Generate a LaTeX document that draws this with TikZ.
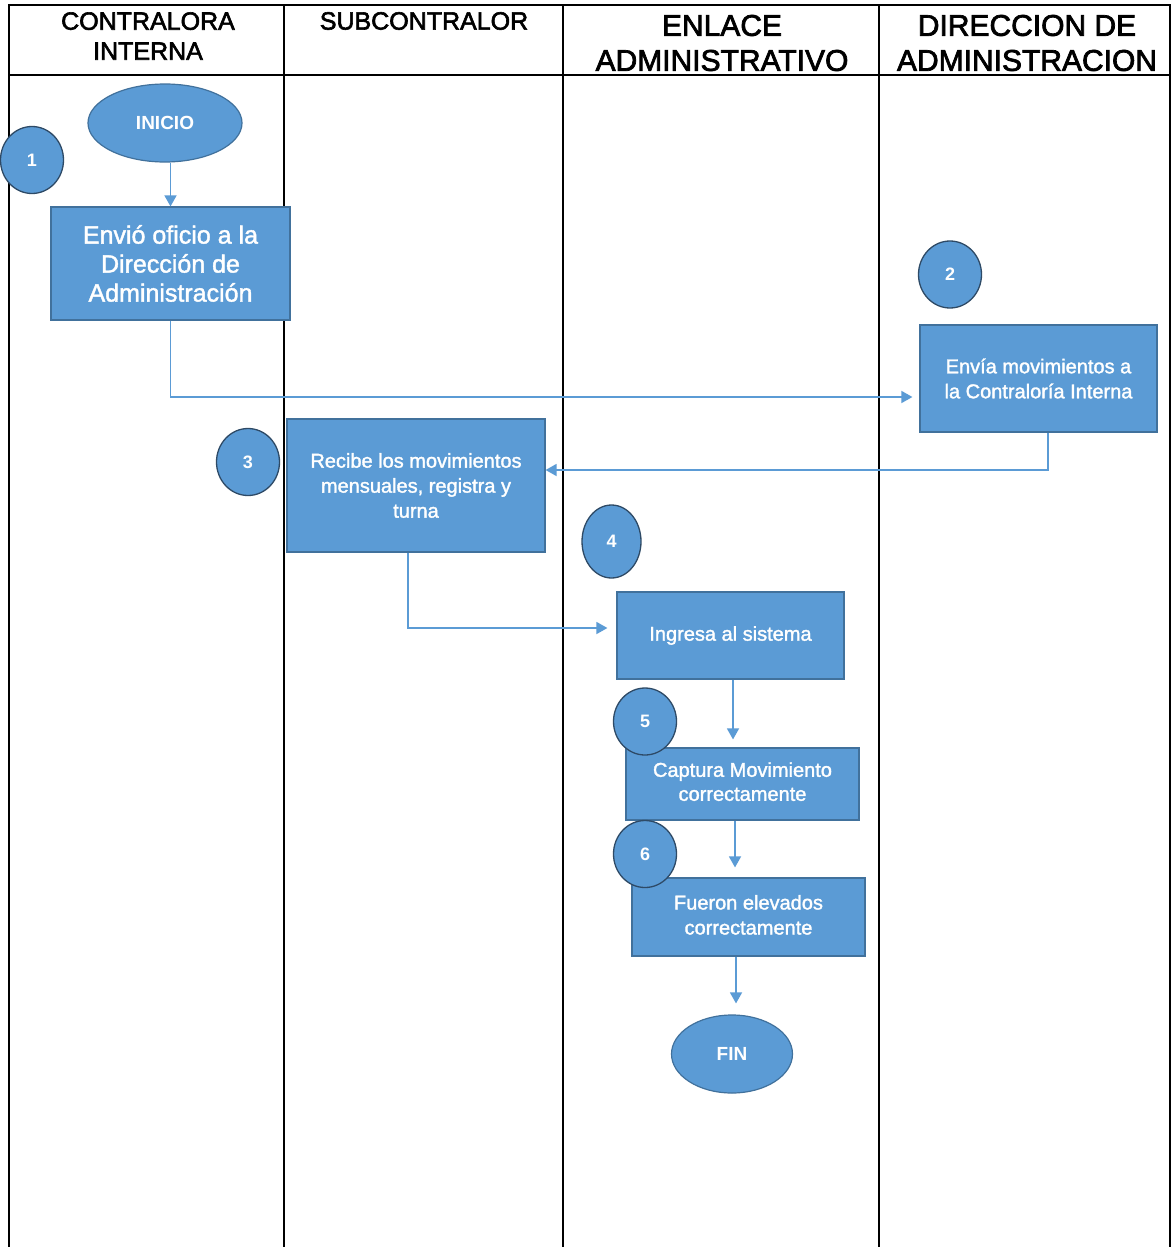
\documentclass[tikz,border=0pt]{standalone}
\usepackage{fontspec}
\setmainfont{Liberation Sans}
\newfontfamily\heavyish[FakeBold=2.4]{Liberation Sans}
\newfontfamily\boxfont[FakeBold=1.6]{Liberation Sans}
\usetikzlibrary{arrows.meta,shapes.geometric}
\definecolor{stepfill}{HTML}{5B9BD5}
\definecolor{stepline}{HTML}{41719C}
\definecolor{markline}{HTML}{2E4A66}
\begin{document}
\begin{tikzpicture}[x=1pt,y=-1pt,
  lane/.style={line width=1.4pt, draw=black},
  head/.style={align=center, inner sep=0pt},
  proc/.style={rectangle, fill=stepfill, draw=stepline, line width=1.2pt,
    text=white, align=center, inner sep=0pt},
  term/.style={ellipse, fill=stepfill, draw=stepline, line width=1.2pt,
    text=white, inner sep=0pt, font=\fontsize{19}{22}\selectfont\bfseries},
  num/.style={ellipse, fill=stepfill, draw=markline, line width=1.3pt,
    text=white, inner sep=0pt, minimum width=63pt, minimum height=67pt,
    font=\fontsize{18}{20}\selectfont\bfseries},
  flow/.style={draw=stepfill, line width=1.5pt,
    -{Triangle[length=11pt,width=12pt]}},
]
\useasboundingbox (0,0) rectangle (1172,1247);
\fill[white] (0,0) rectangle (1172,1247);

% swimlane frame
\draw[lane] (9,1247) -- (9,5) -- (1170,5) -- (1170,1247);
\draw[lane] (9,75) -- (1170,75);
\draw[lane] (284,5) -- (284,1247);
\draw[lane] (563,5) -- (563,1247);
\draw[lane] (879,5) -- (879,1247);

% lane titles
\node[head, font=\heavyish\fontsize{25}{30}\selectfont] (h1) at (148,36) {CONTRALORA\\INTERNA};
\node[head, font=\heavyish\fontsize{25}{30}\selectfont] (h2) at (424,21) {SUBCONTRALOR};
\node[head, font=\heavyish\fontsize{30}{35}\selectfont] (h3) at (722,43) {ENLACE\\ADMINISTRATIVO};
\node[head, font=\heavyish\fontsize{30}{35}\selectfont] (h4) at (1027,43) {DIRECCION DE\\ADMINISTRACION};

% process steps
\node[term, minimum width=154pt, minimum height=78pt] (ini) at (165,123) {INICIO};
\node[proc, minimum width=239pt, minimum height=113pt,
  font=\boxfont\fontsize{25}{29}\selectfont] (b1) at (170.5,263.5)
  {Envió oficio a la\\Dirección de\\Administración};
\node[proc, minimum width=237pt, minimum height=107pt,
  font=\boxfont\fontsize{20}{25}\selectfont] (b2) at (1038.5,378.5)
  {Envía movimientos a\\la Contraloría Interna};
\node[proc, minimum width=258pt, minimum height=133pt,
  font=\boxfont\fontsize{20}{25}\selectfont] (b3) at (416,485.5)
  {Recibe los movimientos\\mensuales, registra y\\turna};
\node[proc, minimum width=227pt, minimum height=87pt,
  font=\boxfont\fontsize{20}{25}\selectfont] (b4) at (730.5,635.5)
  {Ingresa al sistema};
\node[proc, minimum width=233pt, minimum height=72pt,
  font=\boxfont\fontsize{20}{24}\selectfont] (b5) at (742.5,784)
  {\raisebox{2pt}{\begin{tabular}{@{}c@{}}Captura Movimiento\\correctamente\end{tabular}}};
\node[proc, minimum width=233pt, minimum height=78pt,
  font=\boxfont\fontsize{20}{25}\selectfont] (b6) at (748.5,917)
  {\raisebox{6pt}{\begin{tabular}{@{}c@{}}Fueron elevados\\correctamente\end{tabular}}};
\node[term, minimum width=121pt, minimum height=78pt] (fin) at (732,1054) {FIN};

% step numbers
\node[num] (n1) at (32,160) {1};
\node[num] (n2) at (950,274.5) {2};
\node[num] (n3) at (248,462) {3};
\node[num, minimum width=59pt, minimum height=73pt] (n4) at (611.5,541.5) {4};
\node[num] (n5) at (645,721.5) {5};
\node[num] (n6) at (645,854) {6};

% connectors
\coordinate (c01) at (ini.south -| b1.north);
\draw[flow] (c01) -- (b1.north);

\draw[flow, shorten >=7pt] (b1.south) |- ([yshift=-18.5pt]b2.west);

\coordinate (c23) at ([xshift=9.5pt]b2.south);
\draw[flow] (c23) |- ([yshift=15.5pt]b3.east);

\coordinate (c34) at ([xshift=-8pt]b3.south);
\draw[flow, shorten >=9pt] (c34) |- ([yshift=7.5pt]b4.west);

\coordinate (c45) at ([xshift=2.5pt]b4.south);
\draw[flow, shorten >=8pt] (c45) -- (c45 |- b5.north);

\coordinate (c56) at ([xshift=-7.5pt]b5.south);
\draw[flow, shorten >=10pt] (c56) -- (c56 |- b6.north);

\coordinate (c6f) at ([xshift=-12.5pt]b6.south);
\draw[flow, shorten >=11pt] (c6f) -- (c6f |- fin.north);
\end{tikzpicture}
\end{document}
